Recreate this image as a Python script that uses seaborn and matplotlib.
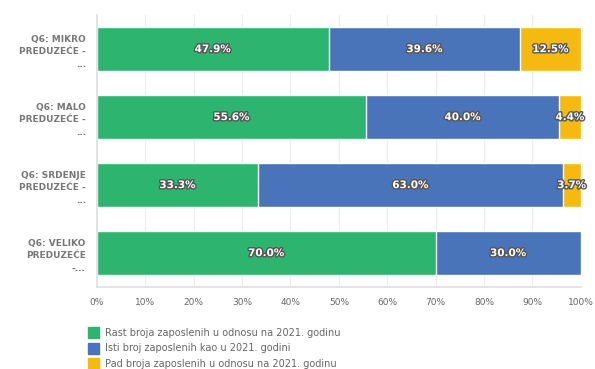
import numpy as np
import pandas as pd
import matplotlib
matplotlib.use('Agg')
import matplotlib.pyplot as plt
import matplotlib.patheffects as pe
from matplotlib.patches import Patch
import seaborn as sns

# Podaci
categories = ['Q6: MIKRO\nPREDUZEĆE -\n...', 'Q6: MALO\nPREDUZEĆE -\n...',
              'Q6: SRDENJE\nPREDUZEĆE -\n...', 'Q6: VELIKO\nPREDUZEĆE\n-...']
rast = [47.9, 55.6, 33.3, 70.0]
isti = [39.6, 40.0, 63.0, 30.0]
pad = [12.5, 4.4, 3.7, 0.0]
series_names = ['Rast broja zaposlenih u odnosu na 2021. godinu',
                'Isti broj zaposlenih kao u 2021. godini',
                'Pad broja zaposlenih u odnosu na 2021. godinu']
colors = ['#2db46e', '#4a74b9', '#f5b90f']

sns.set_theme(style='white')
plt.rcParams['font.family'] = ['DejaVu Sans']

df = pd.DataFrame({'cat': categories, 'rast': rast, 'isti': isti, 'pad': pad})
df['c1'] = df['rast']
df['c2'] = df['rast'] + df['isti']
df['c3'] = df['c2'] + df['pad']

fig = plt.figure(figsize=(5.95, 3.69), dpi=100)
ax = fig.add_axes([0.163, 0.222, 0.813, 0.737])

# stacked bars: draw cumulative totals back to front
for col, c in zip(['c3', 'c2', 'c1'], colors[::-1]):
    sns.barplot(data=df, x=col, y='cat', color=c, orient='h', width=0.65,
                saturation=1, ax=ax)

# labels
outline = [pe.withStroke(linewidth=2, foreground='#555555')]
for i, row in df.iterrows():
    starts = [0, row['c1'], row['c2']]
    for s, v in zip(starts, [row['rast'], row['isti'], row['pad']]):
        if v <= 0:
            continue
        ax.text(s + v / 2, i, f'{v:.1f}%', ha='center', va='center',
                color='white', fontsize=7.5, fontweight='bold', path_effects=outline)

ax.set_xlim(0, 100)
ax.set_ylim(3.5, -0.5)
ax.set_xticks(np.arange(0, 101, 10))
ax.set_xticklabels([f'{t}%' for t in range(0, 101, 10)], fontsize=6.5, color='#666666')
ax.tick_params(axis='y', labelsize=6.5, labelcolor='#777777', length=0, pad=8)
ax.tick_params(axis='x', length=0, pad=8)
for lab in ax.get_yticklabels():
    lab.set_fontweight('bold')
    lab.set_linespacing(1.5)
ax.set_xlabel('')
ax.set_ylabel('')
ax.grid(axis='x', color='#ececec', linewidth=0.8)
ax.set_axisbelow(True)
for side in ['top', 'right']:
    ax.spines[side].set_visible(False)
for side in ['left', 'bottom']:
    ax.spines[side].set_color('#e0e0e0')

handles = [Patch(facecolor=c, edgecolor=c) for c in colors]
fig.legend(handles, series_names, loc='upper left', bbox_to_anchor=(0.14, 0.127),
           frameon=False, fontsize=7, labelcolor='#666666', handlelength=1.1,
           handleheight=1.4, handletextpad=0.6, labelspacing=0.45, borderpad=0)

fig.savefig('out.png', dpi=100)
